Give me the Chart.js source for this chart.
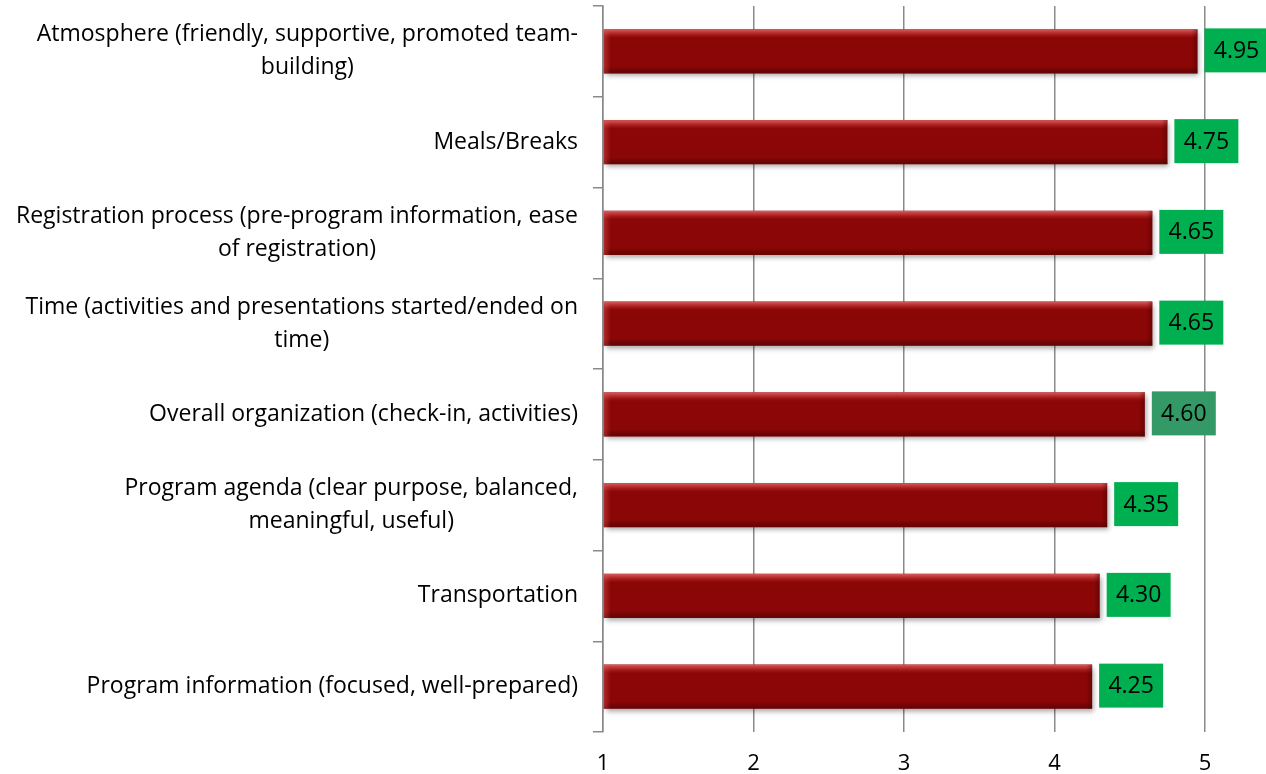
<!DOCTYPE html>
<html><head><meta charset="utf-8">
<script src="https://cdn.jsdelivr.net/npm/chart.js@4"></script>
<style>html,body{margin:0;padding:0;background:#fff;overflow:hidden}#wrap{width:1266px;height:774px;position:relative}</style>
</head><body><div id="wrap"><canvas id="c"></canvas></div>
<script>
const categories = [
  ["Atmosphere (friendly, supportive, promoted team-", "building)"],
  ["Meals/Breaks"],
  ["Registration process (pre-program information, ease", "of registration)"],
  ["Time (activities and presentations started/ended on", "time)"],
  ["Overall organization (check-in, activities)"],
  ["Program agenda (clear purpose, balanced,", "meaningful, useful)"],
  ["Transportation"],
  ["Program information (focused, well-prepared)"]
];
const scores = [4.95, 4.75, 4.65, 4.65, 4.60, 4.35, 4.30, 4.25];
const xTicks = [1, 2, 3, 4, 5];
const highlightedLabel = 4;

const FONT = "'Open Sans', sans-serif";
const GRID = '#8a8a8a';

const barStyle = {
  id: 'barStyle',
  beforeDatasetDraw(chart) {
    const ctx = chart.ctx;
    ctx.save();
    ctx.shadowColor = 'rgba(0,0,0,0.35)';
    ctx.shadowBlur = 5;
    ctx.shadowOffsetX = 2;
    ctx.shadowOffsetY = 3;
  },
  afterDatasetDraw(chart) {
    const ctx = chart.ctx;
    ctx.restore();
    const meta = chart.getDatasetMeta(0);
    const area = chart.chartArea;
    meta.data.forEach(bar => {
      const p = bar.getProps(['x', 'y', 'base', 'height'], true);
      const left = Math.max(p.base, area.left);
      const top = p.y - p.height / 2, w = p.x - left, h = p.height;
      ctx.save();
      const g = ctx.createLinearGradient(0, top, 0, top + h);
      g.addColorStop(0, 'rgba(230,110,110,0.85)');
      g.addColorStop(0.08, 'rgba(220,80,80,0.55)');
      g.addColorStop(0.2, 'rgba(200,40,40,0.0)');
      g.addColorStop(0.85, 'rgba(0,0,0,0.0)');
      g.addColorStop(1, 'rgba(60,0,0,0.45)');
      ctx.fillStyle = g;
      ctx.fillRect(left, top, w, h);
      const g2 = ctx.createLinearGradient(left, 0, left + 7, 0);
      g2.addColorStop(0, 'rgba(220,90,90,0.45)');
      g2.addColorStop(1, 'rgba(220,90,90,0)');
      ctx.fillStyle = g2;
      ctx.fillRect(left, top, 7, h);
      const g3 = ctx.createLinearGradient(left + w - 6, 0, left + w, 0);
      g3.addColorStop(0, 'rgba(60,0,0,0)');
      g3.addColorStop(1, 'rgba(60,0,0,0.4)');
      ctx.fillStyle = g3;
      ctx.fillRect(left + w - 6, top, 6, h);
      ctx.restore();
    });
  }
};

const valueLabels = {
  id: 'valueLabels',
  afterDatasetsDraw(chart) {
    const ctx = chart.ctx;
    const meta = chart.getDatasetMeta(0);
    const data = chart.data.datasets[0].data;
    ctx.save();
    meta.data.forEach((bar, i) => {
      const p = bar.getProps(['x', 'y'], true);
      const w = 64, h = 44;
      const x0 = p.x + 7;
      ctx.fillStyle = i === highlightedLabel ? '#339966' : '#00b050';
      ctx.fillRect(x0, p.y - h / 2 - 1, w, h);
      ctx.fillStyle = '#000';
      ctx.font = `23px ${FONT}`;
      ctx.textAlign = 'center';
      ctx.textBaseline = 'middle';
      ctx.fillText(Number(data[i]).toFixed(2), x0 + w / 2, p.y);
    });
    ctx.restore();
  }
};

const categoryLabels = {
  id: 'categoryLabels',
  afterDraw(chart) {
    const ctx = chart.ctx;
    const y = chart.scales.y;
    const right = 578, lh = 33;
    ctx.save();
    ctx.font = `23px ${FONT}`;
    ctx.fillStyle = '#000';
    ctx.textAlign = 'center';
    ctx.textBaseline = 'middle';
    chart.data.labels.forEach((lines, i) => {
      const cy = y.getPixelForValue(i);
      const maxW = Math.max(...lines.map(l => ctx.measureText(l).width));
      const cx = right - maxW / 2;
      const startY = cy - (lines.length - 1) * lh / 2;
      lines.forEach((l, k) => ctx.fillText(l, cx, startY + k * lh));
    });
    ctx.restore();
  }
};

new Chart(document.getElementById('c'), {
  type: 'bar',
  data: {
    labels: categories,
    datasets: [{
      data: scores,
      base: 1,
      backgroundColor: '#8b0606',
      borderWidth: 0,
      categoryPercentage: 1,
      barPercentage: 0.485
    }]
  },
  options: {
    indexAxis: 'y',
    responsive: true,
    maintainAspectRatio: false,
    animation: false,
    layout: { padding: { top: 6, right: 61, left: 0, bottom: 0 } },
    plugins: { legend: { display: false }, tooltip: { enabled: false } },
    scales: {
      x: {
        min: 1, max: 5,
        afterBuildTicks: s => { s.ticks = xTicks.map(v => ({ value: v })); },
        afterFit: s => { s.height = 42; },
        grid: { color: GRID, lineWidth: 1.5, drawTicks: false },
        border: { display: false },
        ticks: { color: '#000', font: { family: FONT, size: 22 }, padding: 19 }
      },
      y: {
        afterFit: s => { s.width = 603; },
        grid: { drawOnChartArea: false, drawTicks: true, tickLength: 10, color: GRID, lineWidth: 1.5, offset: true },
        border: { display: true, color: GRID, width: 1.5 },
        ticks: { display: false, autoSkip: false }
      }
    }
  },
  plugins: [barStyle, valueLabels, categoryLabels]
});
</script>
</body></html>
